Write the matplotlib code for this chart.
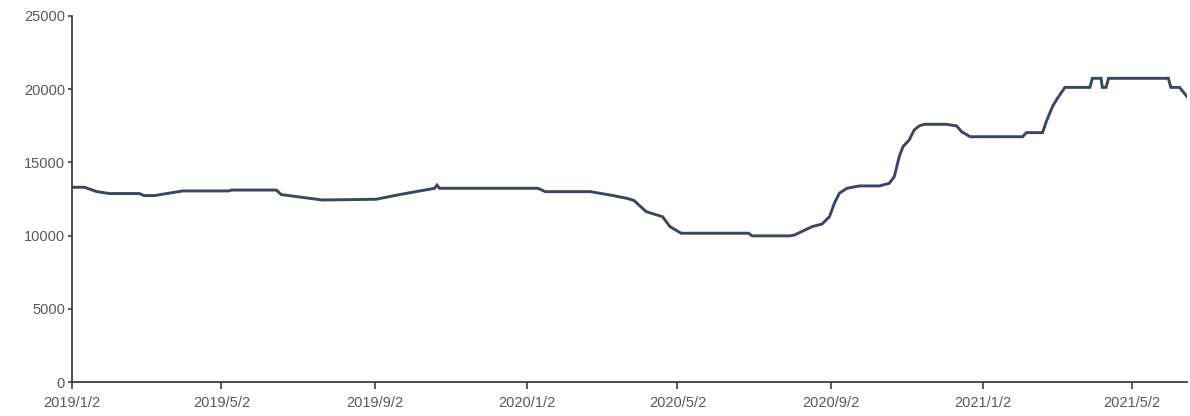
import numpy as np
import pandas as pd
import matplotlib
matplotlib.use('Agg')
import matplotlib.pyplot as plt
import matplotlib.dates as mdates

plt.rcParams['font.family'] = ['Liberation Sans', 'DejaVu Sans']

#values (date, level)
dates = ['2019-01-02', '2019-01-12', '2019-01-22', '2019-02-01', '2019-02-25', '2019-03-01',
         '2019-03-09', '2019-04-01', '2019-05-08', '2019-05-10', '2019-06-15', '2019-06-19',
         '2019-07-22', '2019-09-03', '2019-09-22', '2019-10-20', '2019-10-22', '2019-10-24',
         '2020-01-11', '2020-01-17', '2020-02-22', '2020-03-09', '2020-03-22', '2020-03-28',
         '2020-04-07', '2020-04-20', '2020-04-26', '2020-05-05', '2020-06-28', '2020-07-01',
         '2020-07-31', '2020-08-04', '2020-08-18', '2020-08-26', '2020-09-01', '2020-09-05',
         '2020-09-09', '2020-09-15', '2020-09-25', '2020-10-11', '2020-10-19', '2020-10-23',
         '2020-10-25', '2020-10-27', '2020-10-30', '2020-11-04', '2020-11-08', '2020-11-12',
         '2020-11-16', '2020-12-04', '2020-12-12', '2020-12-16', '2020-12-23', '2021-02-03',
         '2021-02-06', '2021-02-19', '2021-02-22', '2021-02-27', '2021-03-03', '2021-03-09',
         '2021-03-29', '2021-03-31', '2021-04-07', '2021-04-08', '2021-04-11', '2021-04-13',
         '2021-05-31', '2021-06-02', '2021-06-09', '2021-06-15']
values = [13300, 13300, 13000, 12870, 12870, 12730,
          12730, 13050, 13050, 13110, 13110, 12800,
          12430, 12480, 12800, 13230, 13450, 13230,
          13230, 13000, 13000, 12770, 12550, 12400,
          11630, 11290, 10610, 10160, 10160, 9980,
          9980, 10040, 10610, 10790, 11290, 12220,
          12900, 13230, 13390, 13390, 13570, 14020,
          14700, 15390, 16070, 16530, 17210, 17490,
          17600, 17600, 17490, 17100, 16750, 16750,
          17030, 17030, 17780, 18810, 19380, 20120,
          20120, 20740, 20740, 20120, 20120, 20740,
          20740, 20120, 20120, 19490]

tick_dates = ['2019-01-02', '2019-05-02', '2019-09-02', '2020-01-02',
              '2020-05-02', '2020-09-02', '2021-01-02', '2021-05-02']
y_ticks = [0, 5000, 10000, 15000, 20000, 25000]

x = pd.to_datetime(dates)
xt = pd.to_datetime(tick_dates)

fig = plt.figure(figsize=(11.9, 4.16), dpi=100)
ax = fig.add_axes([0.0605, 0.0817, 0.937, 0.88])

ax.plot(x, values, color='#3b4660', lw=2.1, solid_joinstyle='miter')

ax.set_xlim(x[0], x[-1])
ax.set_ylim(0, 25000)
ax.set_yticks(y_ticks)
ax.set_xticks(xt)
ax.set_xticklabels([f"{d.year}/{d.month}/{d.day}" for d in xt])

for s in ['top', 'right']:
    ax.spines[s].set_visible(False)
for s in ['left', 'bottom']:
    ax.spines[s].set_color('#404040')
    ax.spines[s].set_linewidth(1.3)

ax.tick_params(axis='both', colors='#404040', labelcolor='#595959', labelsize=10.5,
               width=1.2)
ax.tick_params(axis='x', length=5, pad=5)
ax.tick_params(axis='y', length=3, pad=2)

fig.savefig('out.png', dpi=100)
